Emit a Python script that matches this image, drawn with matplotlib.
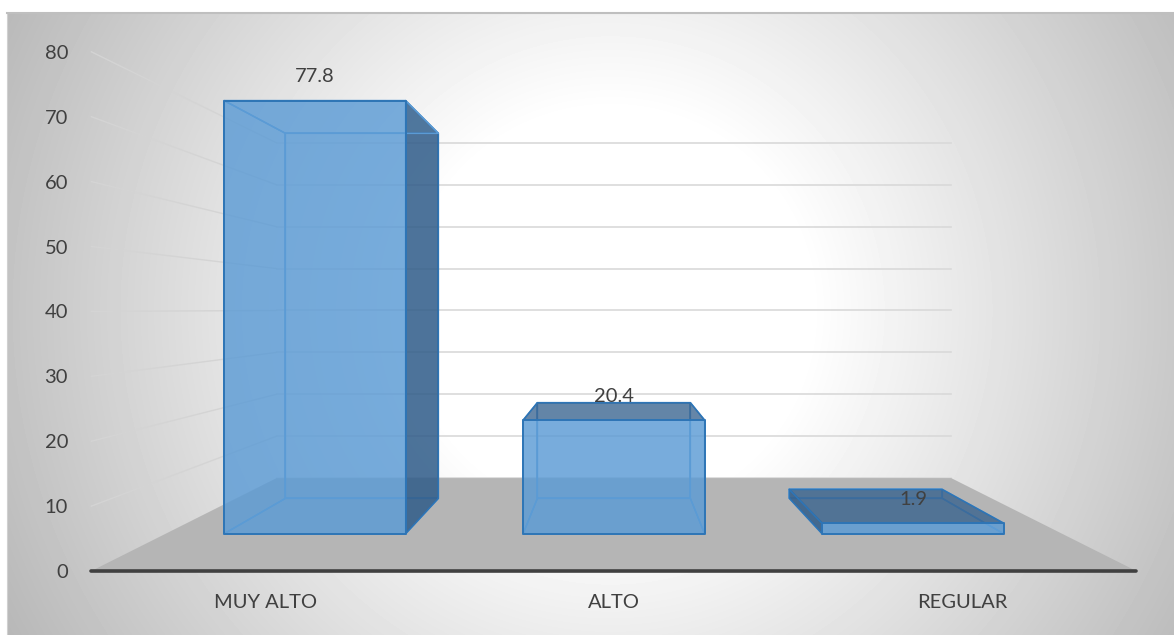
import numpy as np
import matplotlib
matplotlib.use('Agg')
import matplotlib.pyplot as plt
from matplotlib.patches import Polygon

plt.rcParams['font.family'] = ['Lato', 'DejaVu Sans']

categories = ['MUY ALTO', 'ALTO', 'REGULAR']
values = [77.8, 20.4, 1.9]
y_ticks = [0, 10, 20, 30, 40, 50, 60, 70, 80]
y_grid = [10, 20, 30, 40, 50, 60, 70, 80]

# perspective of the 3d box, depth 1 = front of the floor
horizon = 40.4
half_width = 80.5
cat_step = 53.7
bar_half = 16.3
depth_wall = 0.6456
depth_bar_front = 0.858
depth_bar_back = 0.723

TEXT = '#404040'
BLUE = '#5b9bd5'
BLUE_EDGE = '#2e75b6'
DARK = '#2f5b88'


def project(x, v, k):
    return x * k, horizon + (v - horizon) * k


def face(ax, corners, color, alpha, edge, lw):
    pts = [project(*c) for c in corners]
    ax.add_patch(Polygon(pts, closed=True, facecolor=matplotlib.colors.to_rgba(color, alpha),
                         edgecolor=edge, linewidth=lw, joinstyle='round', zorder=3))


def draw_bar(ax, x, v):
    l, r = x - bar_half, x + bar_half
    f, b = depth_bar_front, depth_bar_back
    back_edge = BLUE
    # parts seen through the front
    face(ax, [(l, 0, b), (r, 0, b), (r, v, b), (l, v, b)], BLUE, 0.12, back_edge, 1.1)
    face(ax, [(l, 0, f), (r, 0, f), (r, 0, b), (l, 0, b)], BLUE, 0.12, back_edge, 1.1)
    top = [(l, v, f), (r, v, f), (r, v, b), (l, v, b)]
    left = [(l, 0, f), (l, v, f), (l, v, b), (l, 0, b)]
    right = [(r, 0, f), (r, v, f), (r, v, b), (r, 0, b)]
    # a side that faces the viewer is dark, the rest stays light
    for corners, outer, alpha in [(left, l > 0, 0.84), (right, r < 0, 0.84), (top, v < horizon, 0.72)]:
        if outer:
            face(ax, corners, DARK, alpha, BLUE_EDGE, 1.1)
        else:
            face(ax, corners, BLUE, 0.08, back_edge, 1.1)
    face(ax, [(l, 0, f), (r, 0, f), (r, v, f), (l, v, f)], BLUE, 0.8, BLUE_EDGE, 1.4)


fig = plt.figure(figsize=(11.74, 6.35), dpi=100, facecolor='white')
ax = fig.add_axes([7 / 1174, 0, 1167 / 1174, 622 / 635])
ax.set_xlim(-93.5, 86.3)
ax.set_ylim(-9.86, 85.98)

# background gradient
px, py = np.meshgrid(np.arange(7, 1174), np.arange(13, 635))
r = np.hypot(px - 610, py - 310)
shade = np.clip(1 - (r - 200) / 440 * (1 - 190 / 255), 0.7, 1)
ax.imshow(shade, cmap='gray', vmin=0, vmax=1, extent=[*ax.get_xlim(), *ax.get_ylim()],
          origin='upper', aspect='auto', zorder=0)

# walls
for g in y_grid:
    xs, ys = zip(project(-half_width, g, depth_wall), project(half_width, g, depth_wall))
    ax.plot(xs, ys, color='#d9d9d9', lw=1.2, zorder=1)
    xs, ys = zip(project(-half_width, g, 1), project(-half_width, g, depth_wall))
    ax.plot(xs, ys, color='#d4d4d4', lw=1.0, zorder=1)

# floor
floor = [(-half_width, 0, 1), (half_width, 0, 1), (half_width, 0, depth_wall), (-half_width, 0, depth_wall)]
xs, ys = zip(project(-half_width, 0, depth_wall), project(half_width, 0, depth_wall))
ax.plot(xs, ys, color='#d9d9d9', lw=1.2, zorder=1)
face(ax, floor, '#b5b5b5', 1, 'none', 0)

x_pos = (np.arange(len(categories)) - 1) * cat_step
for x, v in zip(x_pos, values):
    draw_bar(ax, x, v)

xs, ys = zip(project(-half_width, 0, 1), project(half_width, 0, 1))
ax.plot(xs, ys, color=TEXT, lw=2.6, solid_capstyle='round', zorder=4)

for x, v in zip(x_pos, values):
    lx, ly = project(x, v, depth_bar_front)
    ax.annotate(f'{v}', (lx, ly), xytext=(0, 17), textcoords='offset points', ha='center',
                va='center', fontsize=14.5, color=TEXT, zorder=5)

ax.set_xticks(x_pos, categories)
ax.set_yticks(y_ticks)
ax.tick_params(axis='y', length=0, pad=-44, labelsize=14.5, labelcolor=TEXT)
ax.tick_params(axis='x', length=0, pad=-29.5, labelsize=14.5, labelcolor=TEXT)
for side in ['right', 'bottom']:
    ax.spines[side].set_visible(False)
ax.spines['top'].set_color('#bfbfbf')
ax.spines['top'].set_linewidth(1.5)
ax.spines['left'].set_color('#d0d0d0')

fig.savefig('out.png', dpi=100)
